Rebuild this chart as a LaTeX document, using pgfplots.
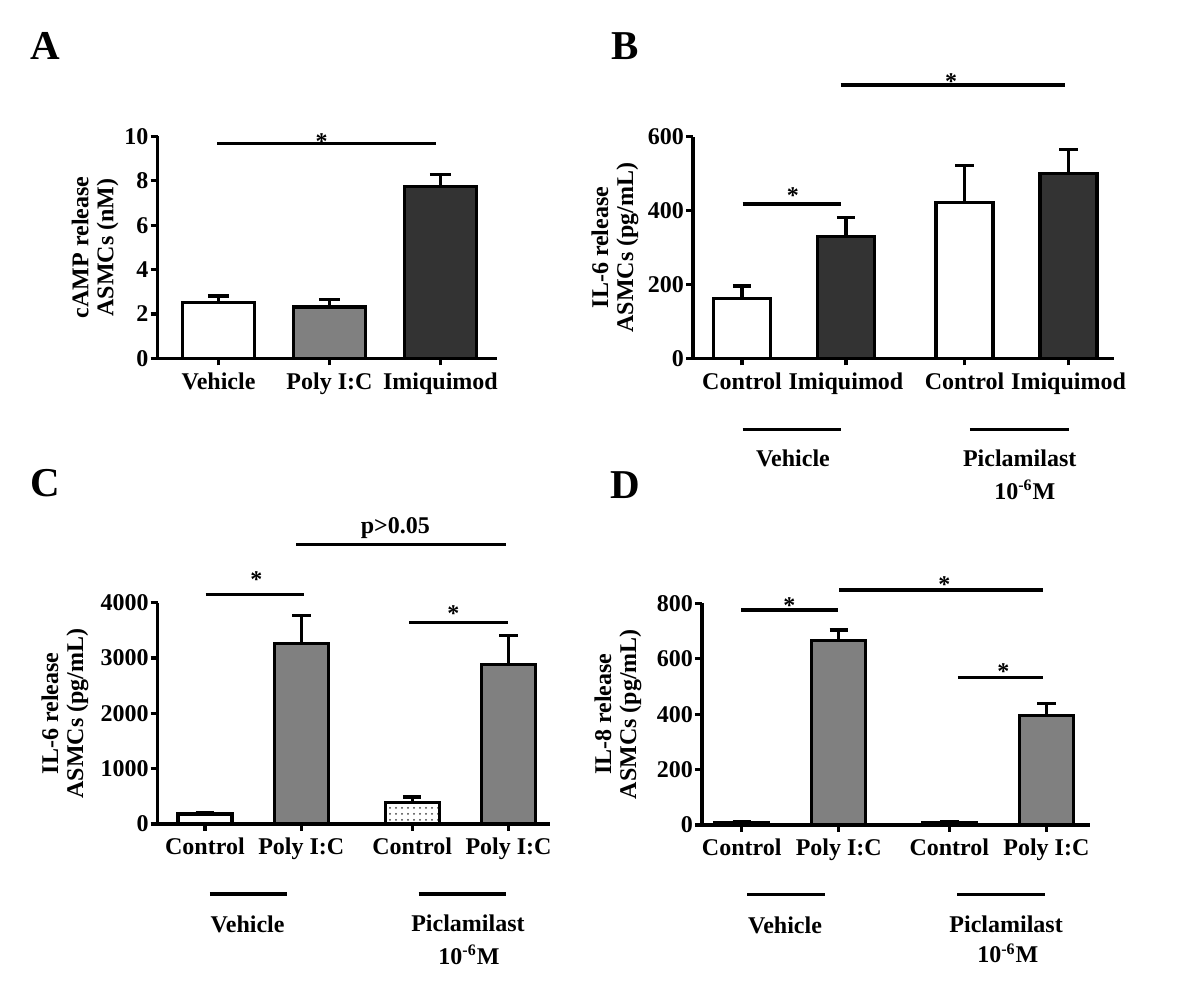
\documentclass[border=0pt]{standalone}
\usepackage{fontspec}
\setmainfont{Liberation Serif}
\usepackage{pgfplots}
\pgfplotsset{compat=1.18}
\usetikzlibrary{patterns}
\definecolor{midgray}{RGB}{128,128,128}
\definecolor{darkbar}{RGB}{51,51,51}
\newcommand{\lw}{1.6pt}
\newcommand{\sig}[2]{\node[anchor=base, yshift=-5.8pt, inner sep=0pt] at (axis cs:#1,#2) {*};}
\tikzset{ylab/.style={rotate=90, align=center, font=\bfseries\fontsize{12}{12.5}\selectfont}}
\pgfplotsset{
  panel/.style={
    scale only axis, anchor=south west, clip=false,
    axis lines*=left, axis line style={line width=\lw, -},
    tick style={line width=\lw, black}, tick align=outside,
    major tick length=3.5pt,
    ymin=0, enlargelimits=false,
    /pgf/number format/assume math mode=true,
    /pgf/number format/1000 sep={},
    scaled ticks=false,
    ticklabel style={font=\bfseries\fontsize{12}{14}\selectfont},
    yticklabel style={xshift=2.5pt},
    error bars/y dir=plus, error bars/y explicit,
    error bars/error bar style={line width=\lw, black},
  },
  bar/.style={ybar, bar shift=0pt, draw=black, line width=\lw},
}
\begin{document}
\begin{tikzpicture}[font=\bfseries\fontsize{12}{14}\selectfont]
\useasboundingbox (0,0) rectangle (600pt,503pt);
% panel letters
\node[font=\bfseries\fontsize{20.5}{22}\selectfont] at (22.75pt,480pt) {A};
\node[font=\bfseries\fontsize{20.5}{22}\selectfont] at (312.5pt,480pt) {B};
\node[font=\bfseries\fontsize{20.5}{22}\selectfont] at (22.5pt,261.5pt) {C};
\node[font=\bfseries\fontsize{20.5}{22}\selectfont] at (312.5pt,260.5pt) {D};

% ---------------- A ----------------
\begin{axis}[panel, at={(78.75pt,323.85pt)}, width=169.75pt, height=110.9pt,
  xmin=-0.55, xmax=2.51, ymax=10, ytick={0,2,4,6,8,10},
  xtick={0,1,2}, xticklabels={Vehicle,Poly I:C,Imiquimod},
  error bars/error mark options={rotate=90, mark size=5.3pt, line width=\lw, black}]
\addplot[bar, bar width=36pt, fill=white] coordinates {(0,2.51) +- (0,0.30)};
\addplot[bar, bar width=36pt, fill=midgray] coordinates {(1,2.31) +- (0,0.33)};
\addplot[bar, bar width=36pt, fill=darkbar] coordinates {(2,7.76) +- (0,0.53)};
\draw[line width=\lw] (axis cs:-0.01,9.67) -- (axis cs:1.96,9.67);
\sig{0.93}{9.955}
\node[ylab] at ([xshift=-31.25pt]rel axis cs:0,0.5) {cAMP release\\ASMCs (nM)};
\end{axis}

% ---------------- B ----------------
\begin{axis}[panel, at={(346.5pt,323.85pt)}, width=210.5pt, height=110.8pt,
  xmin=-0.471, xmax=3.577, ymax=600, ytick={0,200,400,600},
  xtick={0,1,2.14,3.14}, xticklabels={Control,Imiquimod,Control,Imiquimod},
  error bars/error mark options={rotate=90, mark size=4.6pt, line width=\lw, black}]
\addplot[bar, bar width=28.5pt, fill=white] coordinates {(0,162) +- (0,34)};
\addplot[bar, bar width=28.5pt, fill=darkbar] coordinates {(1,329) +- (0,53)};
\addplot[bar, bar width=28.5pt, fill=white] coordinates {(2.14,421) +- (0,102)};
\addplot[bar, bar width=28.5pt, fill=darkbar] coordinates {(3.14,501) +- (0,65)};
\draw[line width=\lw] (axis cs:0.005,417.7) -- (axis cs:0.949,417.7);
\sig{0.49}{451}
\draw[line width=\lw] (axis cs:0.949,739.9) -- (axis cs:3.11,739.9);
\sig{2.01}{758}
\draw[line width=\lw] (axis cs:0.005,-192.2) -- (axis cs:0.949,-192.2);
\draw[line width=\lw] (axis cs:2.19,-192.2) -- (axis cs:3.14,-192.2);
\node at (axis cs:0.49,-269.6) {Vehicle};
\node at (axis cs:2.67,-269.6) {Piclamilast};
\node at (axis cs:2.72,-356) {10\textsuperscript{-6}M};
\node[ylab] at ([xshift=-39pt]rel axis cs:0,0.5) {IL-6 release\\ASMCs (pg/mL)};
\end{axis}

% ---------------- C ----------------
\begin{axis}[panel, at={(78.85pt,91pt)}, width=196.15pt, height=110.65pt,
  xmin=-0.49, xmax=3.58, ymax=4000, ytick={0,1000,2000,3000,4000},
  xtick={0,1,2.15,3.15}, xticklabels={Control,Poly I:C,Control,Poly I:C},
  error bars/error mark options={rotate=90, mark size=4.6pt, line width=\lw, black}]
\addplot[bar, bar width=27pt, fill=white] coordinates {(0,180) +- (0,30)};
\addplot[bar, bar width=27pt, fill=midgray] coordinates {(1,3267) +- (0,498)};
\addplot[bar, bar width=27pt, fill=white, postaction={pattern=dots, pattern color=black!75}] coordinates {(2.15,390) +- (0,97)};
\addplot[bar, bar width=27pt, fill=midgray] coordinates {(3.15,2888) +- (0,516)};
\draw[line width=\lw] (axis cs:0.007,4152) -- (axis cs:1.03,4152);
\sig{0.533}{4482}
\draw[line width=\lw] (axis cs:0.945,5054) -- (axis cs:3.127,5054);
\node[anchor=base, inner sep=0pt] at (axis cs:1.976,5258) {p>0.05};
\draw[line width=\lw] (axis cs:2.12,3646) -- (axis cs:3.14,3646);
\sig{2.577}{3877}
\draw[line width=\lw] (axis cs:0.052,-1264) -- (axis cs:0.856,-1264);
\draw[line width=\lw] (axis cs:2.216,-1264) -- (axis cs:3.127,-1264);
\node at (axis cs:0.443,-1817) {Vehicle};
\node at (axis cs:2.729,-1787) {Piclamilast};
\node at (axis cs:2.739,-2359) {10\textsuperscript{-6}M};
\node[ylab] at ([xshift=-46.4pt]rel axis cs:0,0.5) {IL-6 release\\ASMCs (pg/mL)};
\end{axis}

% ---------------- D ----------------
\begin{axis}[panel, at={(351pt,90.5pt)}, width=194pt, height=110.85pt,
  xmin=-0.41, xmax=3.59, ymax=800, ytick={0,200,400,600,800},
  xtick={0,1,2.14,3.14}, xticklabels={Control,Poly I:C,Control,Poly I:C},
  error bars/error mark options={rotate=90, mark size=4.6pt, line width=\lw, black}]
\addplot[bar, bar width=27pt, fill=white] coordinates {(0,8) +- (0,5)};
\addplot[bar, bar width=27pt, fill=midgray] coordinates {(1,665) +- (0,39)};
\addplot[bar, bar width=27pt, fill=white] coordinates {(2.14,8) +- (0,5)};
\addplot[bar, bar width=27pt, fill=midgray] coordinates {(3.14,396) +- (0,43)};
\draw[line width=\lw] (axis cs:-0.007,775.9) -- (axis cs:0.99,775.9);
\sig{0.49}{805}
\draw[line width=\lw] (axis cs:1.007,848) -- (axis cs:3.11,848);
\sig{2.09}{881}
\draw[line width=\lw] (axis cs:2.227,531.6) -- (axis cs:3.11,531.6);
\sig{2.698}{565.5}
\draw[line width=\lw] (axis cs:0.055,-250) -- (axis cs:0.859,-250);
\draw[line width=\lw] (axis cs:2.22,-250) -- (axis cs:3.13,-250);
\node at (axis cs:0.446,-360.9) {Vehicle};
\node at (axis cs:2.725,-358.4) {Piclamilast};
\node at (axis cs:2.742,-463) {10\textsuperscript{-6}M};
\node[ylab] at ([xshift=-42pt]rel axis cs:0,0.5) {IL-8 release\\ASMCs (pg/mL)};
\end{axis}
\end{tikzpicture}
\end{document}
